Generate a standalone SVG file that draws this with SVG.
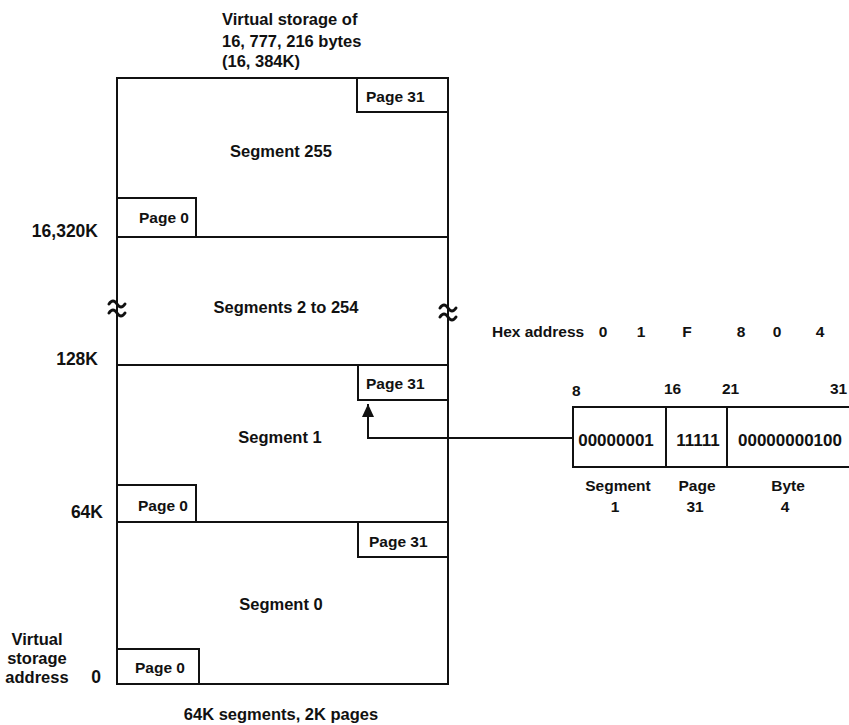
<svg xmlns="http://www.w3.org/2000/svg" width="849" height="725" viewBox="0 0 849 725">
<style>
text{font-family:"Liberation Sans",Arial,sans-serif;font-weight:bold;fill:#111;}
.t{font-size:16.5px;}
.pg{font-size:15.5px;}
.lb{font-size:17.5px;}
.rg{font-size:17px;}
.hx{font-size:15.5px;}
.c{text-anchor:middle;}
.r{text-anchor:end;}
.ln{fill:none;stroke:#111;stroke-width:2;}
.wv{fill:none;stroke:#111;stroke-width:3;stroke-linecap:round;}
</style>
<defs>
<marker id="ah" markerWidth="13" markerHeight="12" refX="13" refY="6" viewBox="0 0 13 12" orient="auto" markerUnits="userSpaceOnUse">
<path d="M0,0 L13,6 L0,12 Z" fill="#111"/>
</marker>
</defs>

<g id="title">
<text class="t" x="222" y="25">Virtual storage of</text>
<text class="t" x="222" y="47">16, 777, 216 bytes</text>
<text class="t" x="222" y="67">(16, 384K)</text>
</g>

<g id="storage">
<rect class="ln" x="117" y="78" width="331" height="606"/>
<line class="ln" x1="117" y1="237" x2="448" y2="237"/>
<line class="ln" x1="117" y1="365" x2="448" y2="365"/>
<line class="ln" x1="117" y1="522" x2="448" y2="522"/>
</g>

<g id="seg255">
<rect class="ln" x="357" y="78" width="91" height="34"/>
<text class="pg" x="366" y="102">Page 31</text>
<text class="t c" x="281" y="157">Segment 255</text>
<rect class="ln" x="117" y="198" width="79" height="39"/>
<text class="pg" x="139" y="223">Page 0</text>
</g>

<g id="seg2to254">
<text class="t c" x="286" y="313">Segments 2 to 254</text>
<path class="wv" d="M109,304 q4,-6 8,0 t8,0 M109,313 q4,-6 8,0 t8,0"/>
<path class="wv" d="M440,308 q4,-6 8,0 t8,0 M440,317 q4,-6 8,0 t8,0"/>
</g>

<g id="seg1">
<rect class="ln" x="358" y="365" width="90" height="35"/>
<text class="pg" x="366" y="389">Page 31</text>
<text class="t c" x="280" y="443">Segment 1</text>
<rect class="ln" x="117" y="485" width="79" height="37"/>
<text class="pg" x="138" y="511">Page 0</text>
</g>

<g id="seg0">
<rect class="ln" x="358" y="522" width="90" height="35"/>
<text class="pg" x="369" y="547">Page 31</text>
<text class="t c" x="281" y="610">Segment 0</text>
<rect class="ln" x="117" y="649" width="82" height="35"/>
<text class="pg" x="135" y="673">Page 0</text>
</g>

<g id="addresses">
<text class="lb r" x="98" y="237">16,320K</text>
<text class="lb r" x="98" y="365">128K</text>
<text class="lb r" x="103" y="518">64K</text>
<text class="lb c" x="96" y="683">0</text>
<text class="t c" x="37" y="645">Virtual</text>
<text class="t c" x="37" y="664">storage</text>
<text class="t c" x="37" y="683">address</text>
<text class="t c" x="281" y="720">64K segments, 2K pages</text>
</g>

<g id="hex">
<text class="hx" x="492" y="337">Hex address</text>
<text class="hx c" x="603" y="337">0</text>
<text class="hx c" x="641" y="337">1</text>
<text class="hx c" x="687" y="337">F</text>
<text class="hx c" x="741" y="337">8</text>
<text class="hx c" x="777" y="337">0</text>
<text class="hx c" x="820" y="337">4</text>
</g>

<g id="register">
<text class="hx" x="572" y="396">8</text>
<text class="hx" x="664" y="394">16</text>
<text class="hx" x="722" y="394">21</text>
<text class="hx" x="830" y="394">31</text>
<path class="ln" d="M860,407 H573 V467 H860"/>
<line class="ln" x1="666" y1="407" x2="666" y2="467"/>
<line class="ln" x1="727" y1="407" x2="727" y2="467"/>
<text class="rg c" x="616" y="446">00000001</text>
<text class="rg c" x="698" y="446">11111</text>
<text class="rg c" x="790" y="446">00000000100</text>
<text class="pg c" x="618" y="491">Segment</text>
<text class="pg c" x="615" y="512">1</text>
<text class="pg c" x="697" y="491">Page</text>
<text class="pg c" x="695" y="512">31</text>
<text class="pg c" x="788" y="491">Byte</text>
<text class="pg c" x="785" y="512">4</text>
</g>

<g id="connectors">
<path class="ln" d="M573,438 H368 V404" marker-end="url(#ah)"/>
</g>
</svg>
